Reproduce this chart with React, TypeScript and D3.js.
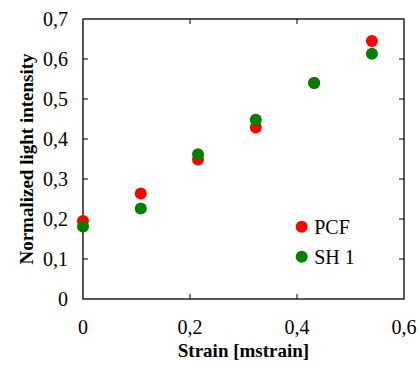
import React from "react";
import * as d3 from "d3";

const strain = [0, 0.108, 0.215, 0.323, 0.432, 0.54];
const pcf = [0.195, 0.264, 0.349, 0.429, 0.54, 0.645];
const sh1 = [0.181, 0.226, 0.362, 0.448, 0.54, 0.613];
const xTicks = [0, 0.2, 0.4, 0.6];
const yTicks = [0, 0.1, 0.2, 0.3, 0.4, 0.5, 0.6, 0.7];
const seriesNames = ["PCF", "SH 1"];
const seriesColors = ["#ff0000", "#008000"];

const W = 420;
const H = 365;
const m = { left: 83, right: 404, top: 19, bottom: 299 };
const fmt = (v: number) => String(Math.round(v * 10) / 10).replace(".", ",");

export default function App() {
  const x = d3.scaleLinear().domain([0, 0.6]).range([m.left, m.right]);
  const y = d3.scaleLinear().domain([0, 0.7]).range([m.bottom, m.top]);
  const series = [pcf, sh1];
  const font = "'Liberation Serif', 'Times New Roman', serif";
  const tick = 5;

  return (
    <svg width={W} height={H} style={{ position: "absolute", left: 0, top: 0 }} fontFamily={font}>
      <rect x={m.left} y={m.top} width={m.right - m.left} height={m.bottom - m.top} fill="none" stroke="#000" strokeWidth={1.3} />
      {yTicks.slice(1, -1).map((t) => (
        <g key={"yt" + t}>
          <line x1={m.left} x2={m.left + tick} y1={y(t)} y2={y(t)} stroke="#000" />
          <line x1={m.right} x2={m.right - tick} y1={y(t)} y2={y(t)} stroke="#000" />
        </g>
      ))}
      {xTicks.slice(1, -1).map((t) => (
        <g key={"xt" + t}>
          <line x1={x(t)} x2={x(t)} y1={m.bottom} y2={m.bottom - tick} stroke="#000" />
          <line x1={x(t)} x2={x(t)} y1={m.top} y2={m.top + tick} stroke="#000" />
        </g>
      ))}
      {yTicks.map((t) => (
        <text key={"yl" + t} x={68} y={y(t)} dy="0.33em" textAnchor="end" fontSize={20}>
          {fmt(t)}
        </text>
      ))}
      {xTicks.map((t) => (
        <text key={"xl" + t} x={x(t)} y={334} textAnchor="middle" fontSize={20}>
          {fmt(t)}
        </text>
      ))}
      <text x={(m.left + m.right) / 2 + 0} y={357} textAnchor="middle" fontSize={19} fontWeight="bold">
        Strain [mstrain]
      </text>
      <text
        transform={`translate(33,${(m.top + m.bottom) / 2}) rotate(-90)`}
        textAnchor="middle"
        fontSize={19}
        fontWeight="bold"
      >
        Normalized light intensity
      </text>
      {series.map((s, si) =>
        s.map((v, i) => (
          <circle key={si + "-" + i} cx={x(strain[i])} cy={y(v)} r={6} fill={seriesColors[si]} />
        ))
      )}
      {seriesNames.map((n, i) => (
        <g key={n} transform={`translate(301.7,${226.7 + i * 30})`}>
          <circle r={6} fill={seriesColors[i]} />
          <text x={12.5} dy="0.35em" fontSize={20}>
            {n}
          </text>
        </g>
      ))}
    </svg>
  );
}
